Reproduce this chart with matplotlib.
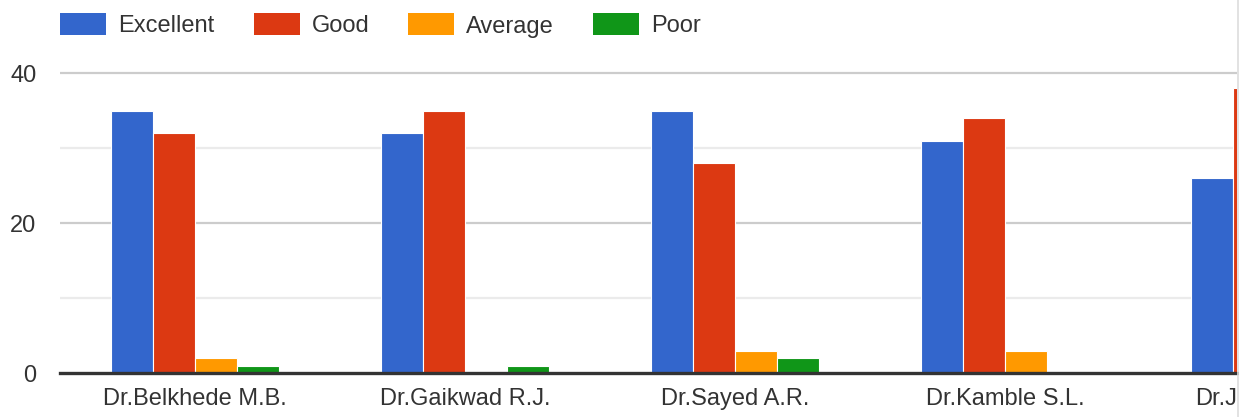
import matplotlib
matplotlib.use("Agg")
import matplotlib.pyplot as plt
from matplotlib.patches import Rectangle
from matplotlib.lines import Line2D
import matplotlib.transforms as mtrans
import numpy as np

categories = ["Dr.Belkhede M.B.", "Dr.Gaikwad R.J.", "Dr.Sayed A.R.", "Dr.Kamble S.L.", "Dr.J"]
series_names = ["Excellent", "Good", "Average", "Poor"]
excellent = [35, 32, 35, 31, 26]
good = [32, 35, 28, 34, 38]
average = [2, 0, 3, 3, 0]
poor = [1, 1, 2, 0, 0]
yticks = [0, 20, 40]
minor_yticks = [10, 30]

colors = ["#3366cc", "#dc3912", "#ff9900", "#109618"]
series = [excellent, good, average, poor]

W, H = 1244, 417
fig = plt.figure(figsize=(W / 100, H / 100), dpi=100)
plt.rcParams['font.family'] = ['Liberation Sans', 'DejaVu Sans']
FS = 17
TXT = "#333333"

ax_left, ax_right = 60, 1237
ax_bottom = 373
ymax = 41
px_per_unit = 7.5
ax_top = ax_bottom - ymax * px_per_unit
ax = fig.add_axes([ax_left / W, (H - ax_bottom) / H, (ax_right - ax_left) / W,
                   (ax_bottom - ax_top) / H])

step = 270.0
x_left_data = -0.5
x_right_data = x_left_data + (ax_right - ax_left) / step
ax.set_xlim(x_left_data, x_right_data)
ax.set_ylim(0, ymax)

bw = 42 / step
x = np.arange(len(categories))
for i, (vals, c) in enumerate(zip(series, colors)):
    off = (i - 1.5) * bw
    ax.bar(x + off, vals, width=bw, color=c, edgecolor="white", linewidth=0.8, zorder=3)

for s in ax.spines.values():
    s.set_visible(False)
ax.axhline(0, color="#333333", linewidth=2.4, zorder=5, clip_on=False)

for t in yticks[1:]:
    ax.axhline(t, color="#cccccc", linewidth=1.6, zorder=1)
for t in minor_yticks:
    ax.axhline(t, color="#ebebeb", linewidth=1.6, zorder=1)

ax.set_yticks(yticks)
ax.set_yticklabels([str(t) for t in yticks])
ax.tick_params(axis="y", length=0, pad=17, labelsize=FS, labelcolor=TXT)

ax.set_xticks(x[:4])
ax.set_xticklabels(categories[:4])
ax.tick_params(axis="x", length=0, pad=11, labelsize=FS, labelcolor=TXT)

fig.canvas.draw()
bb = ax.get_xticklabels()[0].get_window_extent()
last_x = x[4] - 80 / step
ax.text(last_x, bb.y1, categories[4], ha="left", va="top", fontsize=FS, color=TXT,
        transform=mtrans.blended_transform_factory(ax.transData, mtrans.IdentityTransform()),
        clip_on=False)

fig.add_artist(Line2D([1237.5 / W, 1237.5 / W], [0, 1], transform=fig.transFigure,
                      color="#dddddd", linewidth=1.2))
fig.add_artist(Rectangle((1238.5 / W, 0), (W - 1238.5) / W, 1, transform=fig.transFigure,
                         facecolor="white", edgecolor="none", zorder=10))

box_x = [60, 254, 408, 593]
for bx, name, c in zip(box_x, series_names, colors):
    fig.add_artist(Rectangle((bx / W, (H - 35) / H), 46 / W, 22 / H,
                             transform=fig.transFigure, facecolor=c, edgecolor="none"))
    fig.text((bx + 58) / W, (H - 24) / H, name, ha="left", va="center_baseline",
             fontsize=FS, color=TXT)

fig.savefig("out.png", dpi=100, facecolor="white")
